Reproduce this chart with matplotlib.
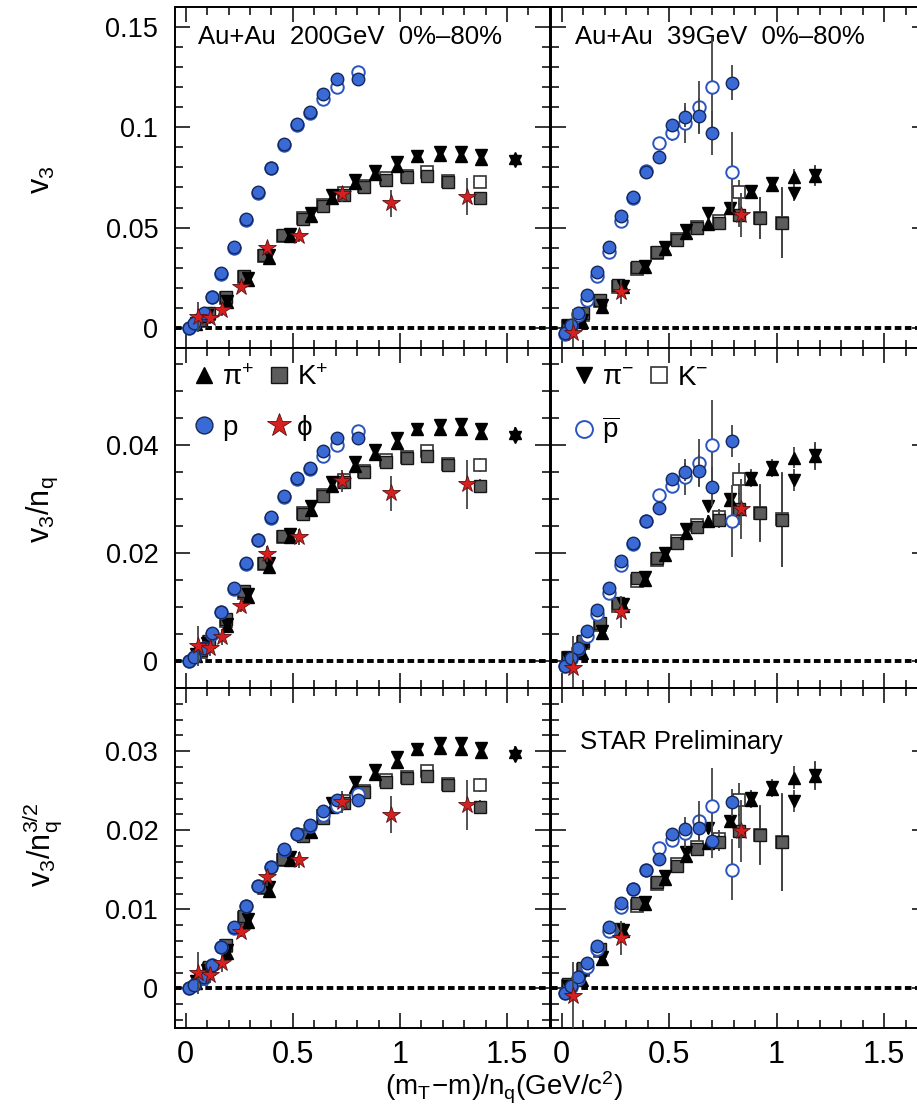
import matplotlib
matplotlib.use("Agg")
import matplotlib.pyplot as plt
import numpy as np
from matplotlib.lines import Line2D
from matplotlib.ticker import MultipleLocator, FormatStrFormatter

plt.rcParams['font.family'] = ['Liberation Sans', 'DejaVu Sans']
plt.rcParams['mathtext.fontset'] = 'custom'
plt.rcParams['mathtext.rm'] = 'Liberation Sans'
plt.rcParams['mathtext.it'] = 'Liberation Sans:italic'

# number of constituent quarks
nq_meson = 2
nq_baryon = 3

# ---- Au+Au 200 GeV ----
pi200_x = [0.05, 0.10, 0.194, 0.290, 0.388, 0.488, 0.585, 0.685, 0.788, 0.884,
           0.985, 1.081, 1.186, 1.284, 1.380, 1.535]
pip200_v3 = [0.0020, 0.0060, 0.0128, 0.0238, 0.0350, 0.0458, 0.0560, 0.0648, 0.0722,
             0.0767, 0.0808, 0.0858, 0.0860, 0.0858, 0.0844, 0.0846]
pim200_v3 = [0.0025, 0.0066, 0.0136, 0.0248, 0.0362, 0.0470, 0.0574, 0.0662, 0.0738,
             0.0782, 0.0826, 0.0858, 0.0876, 0.0878, 0.0860, 0.0830]
pi200_err = [0.001, 0.001, 0.001, 0.001, 0.001, 0.001, 0.001, 0.001, 0.001, 0.001,
             0.001, 0.001, 0.0015, 0.002, 0.002, 0.002]

k200_x = [0.07, 0.109, 0.186, 0.271, 0.364, 0.454, 0.547, 0.640, 0.737, 0.833,
          0.933, 1.031, 1.124, 1.225, 1.372]
kp200_v3 = [0.0040, 0.0076, 0.0156, 0.0259, 0.0364, 0.0462, 0.0545, 0.0610, 0.0663,
            0.0701, 0.0738, 0.0754, 0.0758, 0.0726, 0.0650]
km200_v3 = [0.0035, 0.0070, 0.0150, 0.0252, 0.0360, 0.0458, 0.0548, 0.0615, 0.0670,
            0.0705, 0.0745, 0.0756, 0.0778, 0.0730, 0.0727]
k200_err = [0.001, 0.001, 0.001, 0.001, 0.001, 0.001, 0.001, 0.001, 0.001, 0.001,
            0.001, 0.001, 0.0015, 0.002, 0.0025]

p200_x = [0.015, 0.039, 0.085, 0.124, 0.167, 0.225, 0.282, 0.338, 0.400, 0.459,
          0.519, 0.581, 0.643, 0.706, 0.802]
p200_v3 = [0.0000, 0.0023, 0.0073, 0.0156, 0.0273, 0.0405, 0.0543, 0.0675, 0.0799,
           0.0917, 0.1017, 0.1075, 0.1165, 0.1240, 0.1240]
pbar200_v3 = [0.0000, 0.0020, 0.0070, 0.0152, 0.0270, 0.0400, 0.0540, 0.0672, 0.0795,
              0.0912, 0.1012, 0.1070, 0.1140, 0.1200, 0.1276]
p200_err = [0.0008] * 15

phi200_x = [0.059, 0.112, 0.171, 0.260, 0.380, 0.527, 0.729, 0.958, 1.313]
phi200_v3 = [0.0056, 0.0048, 0.0090, 0.0203, 0.0397, 0.0459, 0.0666, 0.0621, 0.0655]
phi200_err = [0.0075, 0.003, 0.003, 0.002, 0.003, 0.003, 0.004, 0.0066, 0.009]

# ---- Au+Au 39 GeV ----
pi39_x = [0.03, 0.092, 0.185, 0.285, 0.386, 0.479, 0.580, 0.680, 0.781, 0.879,
          0.980, 1.079, 1.178]
pip39_v3 = [0.0000, 0.0031, 0.0104, 0.0204, 0.0302, 0.0392, 0.0475, 0.0520, 0.0597,
            0.0675, 0.0713, 0.0754, 0.0759]
pim39_v3 = [0.0010, 0.0040, 0.0112, 0.0210, 0.0310, 0.0402, 0.0488, 0.0574, 0.0600,
            0.0680, 0.0720, 0.0671, 0.0762]
pi39_err = [0.001, 0.001, 0.001, 0.001, 0.001, 0.0015, 0.002, 0.002, 0.002, 0.003,
            0.003, 0.004, 0.005]

k39_x = [0.03, 0.099, 0.177, 0.262, 0.350, 0.443, 0.536, 0.631, 0.730, 0.823,
         0.924, 1.025]
kp39_v3 = [0.0015, 0.0073, 0.0140, 0.0214, 0.0306, 0.0380, 0.0439, 0.0497, 0.0522,
           0.0563, 0.0547, 0.0522]
km39_v3 = [0.0010, 0.0065, 0.0135, 0.0205, 0.0295, 0.0375, 0.0445, 0.0505, 0.0535,
           0.0675, 0.0550, 0.0525]
k39_err = [0.001, 0.001, 0.001, 0.001, 0.001, 0.0015, 0.002, 0.002, 0.003, 0.006,
           0.0105, 0.0175]

p39_x = [0.014, 0.045, 0.076, 0.119, 0.166, 0.220, 0.274, 0.333, 0.392, 0.451,
         0.512, 0.574, 0.637, 0.699, 0.792]
p39_v3 = [-0.0027, 0.0015, 0.0073, 0.0165, 0.0281, 0.0405, 0.0558, 0.0655, 0.0779,
          0.0851, 0.1012, 0.1050, 0.1057, 0.0970, 0.1223]
pbar39_v3 = [-0.0030, 0.0010, 0.0065, 0.0140, 0.0259, 0.0380, 0.0535, 0.0650, 0.0780,
             0.0921, 0.0974, 0.1023, 0.1103, 0.1200, 0.0779]
p39_err = [0.001, 0.001, 0.001, 0.001, 0.001, 0.001, 0.001, 0.001, 0.0015, 0.002,
           0.003, 0.005, 0.009, 0.011, 0.0087]
pbar39_err = [0.001, 0.001, 0.001, 0.001, 0.001, 0.001, 0.001, 0.001, 0.0015, 0.003,
              0.004, 0.010, 0.013, 0.025, 0.020]

phi39_x = [0.053, 0.274, 0.836]
phi39_v3 = [-0.0027, 0.0181, 0.0563]
phi39_err = [0.012, 0.006, 0.011]

# marker styles
st_pip = dict(marker='^', ms=8.5, mfc='black', mec='black')
st_pim = dict(marker='v', ms=8.5, mfc='black', mec='black')
st_kp = dict(marker='s', ms=8.5, mfc='#5c5c5c', mec='#151515', mew=1.0)
st_km = dict(marker='s', ms=8.5, mfc='white', mec='#333333', mew=1.2)
st_p = dict(marker='o', ms=9, mfc='#3a6ad6', mec='#14285a', mew=1.0)
st_pbar = dict(marker='o', ms=9, mfc='white', mec='#2a55c0', mew=1.4)
st_phi = dict(marker='*', ms=13, mfc='#d62020', mec='#5a1010', mew=0.6)


def draw(ax, x, v3, err, scale, style, label, z):
    y = np.array(v3) / scale
    e = np.array(err) / scale
    ax.errorbar(x, y, yerr=e, ls='none', ecolor='#444444', elinewidth=1.3,
                capsize=0, zorder=z, label=label, **style)


def panel(ax, power, data, ylim, major, minor):
    pi_x, pip, pim, pie, k_x, kp, km, ke, p_x, p, pbar, pe, pbe, f_x, f, fe = data
    sm = nq_meson ** power
    sb = nq_baryon ** power
    ax.axhline(0, color='black', lw=2.8, ls=(0, (1.7, 0.9)), zorder=1)
    draw(ax, k_x, km, ke, sm, st_km, 'K-', 3)
    draw(ax, k_x, kp, ke, sm, st_kp, 'K+', 4)
    draw(ax, pi_x, pip, pie, sm, st_pip, 'pi+', 5)
    draw(ax, pi_x, pim, pie, sm, st_pim, 'pi-', 5)
    draw(ax, p_x, pbar, pbe, sb, st_pbar, 'pbar', 6)
    draw(ax, p_x, p, pe, sb, st_p, 'p', 7)
    draw(ax, f_x, f, fe, sm, st_phi, 'phi', 8)
    ax.set_xlim(-0.05, 1.70)
    ax.set_ylim(*ylim)
    ax.xaxis.set_major_locator(MultipleLocator(0.5))
    ax.xaxis.set_minor_locator(MultipleLocator(0.1))
    ax.yaxis.set_major_locator(MultipleLocator(major))
    ax.yaxis.set_minor_locator(MultipleLocator(minor))
    ax.xaxis.set_major_formatter(FormatStrFormatter('%g'))
    ax.yaxis.set_major_formatter(FormatStrFormatter('%g'))
    ax.tick_params(which='both', direction='in', top=True, right=True, width=1.1)
    ax.tick_params(which='major', length=11)
    ax.tick_params(which='minor', length=5.5)
    ax.tick_params(axis='y', labelsize=19.5, pad=12)
    ax.tick_params(axis='x', labelsize=22, pad=9)
    for s in ax.spines.values():
        s.set_linewidth(1.4)


data200 = (pi200_x, pip200_v3, pim200_v3, pi200_err, k200_x, kp200_v3, km200_v3, k200_err,
           p200_x, p200_v3, pbar200_v3, p200_err, p200_err, phi200_x, phi200_v3, phi200_err)
data39 = (pi39_x, pip39_v3, pim39_v3, pi39_err, k39_x, kp39_v3, km39_v3, k39_err,
          p39_x, p39_v3, pbar39_v3, p39_err, pbar39_err, phi39_x, phi39_v3, phi39_err)

row_ylim = [(-0.01, 0.16), (-0.005, 0.058), (-0.005, 0.038)]
row_major = [0.05, 0.02, 0.01]
row_minor = [0.01, 0.005, 0.002]
row_power = [0, 1, 1.5]

fig = plt.figure(figsize=(9.17, 11.16), dpi=100)
row_bottom = [0.6882, 0.3835, 0.0789]
row_h = [0.3056, 0.3047, 0.3047]
col_left = [0.1908, 0.6009]
col_w = [0.4089, 0.4100]

axes = [[None, None] for _ in range(3)]
for r in range(3):
    for c, data in enumerate([data200, data39]):
        ax = fig.add_axes([col_left[c], row_bottom[r], col_w[c], row_h[r]])
        panel(ax, row_power[r], data, row_ylim[r], row_major[r], row_minor[r])
        if c == 1:
            ax.tick_params(axis='y', labelleft=False)
        if r < 2:
            ax.tick_params(axis='x', labelbottom=False)
        axes[r][c] = ax

axes[0][0].text(0.061, 0.912, 'Au+Au  200GeV  0%–80%', transform=axes[0][0].transAxes,
                fontsize=18.5, va='center', ha='left')
axes[0][1].text(0.064, 0.912, 'Au+Au  39GeV  0%–80%', transform=axes[0][1].transAxes,
                fontsize=18.5, va='center', ha='left')
axes[2][1].text(0.077, 0.841, 'STAR Preliminary', transform=axes[2][1].transAxes,
                fontsize=18.5, va='center', ha='left')


def proxy(style):
    return Line2D([], [], ls='none', **{**style, 'ms': style['ms'] * 1.35})


h_left = [proxy(st_pip), proxy(st_p), proxy(st_kp), proxy(st_phi)]
l_left = ['π$^{+}$', 'p', 'K$^{+}$', 'ϕ']
axes[1][0].legend(h_left, l_left, ncol=2, loc='upper left', bbox_to_anchor=(0.04, 0.95),
                  frameon=False, fontsize=20, handlelength=1.0, handletextpad=0.15,
                  columnspacing=0.4, labelspacing=0.85, borderpad=0, borderaxespad=0)
h_right = [proxy(st_pim), proxy(st_pbar), proxy(st_km)]
l_right = ['π$^{-}$', r'$\overline{\mathrm{p}}$', 'K$^{-}$']
axes[1][1].legend(h_right, l_right, ncol=2, loc='upper left', bbox_to_anchor=(0.05, 0.95),
                  frameon=False, fontsize=20, handlelength=1.0, handletextpad=0.15,
                  columnspacing=0.4, labelspacing=0.85, borderpad=0, borderaxespad=0)

fig.text(0.046, 0.839, r'$\mathrm{v_3}$', rotation=90, fontsize=22, ha='center', va='center')
fig.text(0.046, 0.543, r'$\mathrm{v_3/n_q}$', rotation=90, fontsize=22, ha='center', va='center')
fig.text(0.046, 0.243, r'$\mathrm{v_3/n_q^{3/2}}$', rotation=90, fontsize=22, ha='center', va='center')
fig.text(0.55, 0.025, r'$\mathrm{(m_T\!-\!m)/n_q(GeV/c^2)}$', fontsize=20, ha='center', va='center')

plt.savefig('out.png', dpi=100, facecolor='white')
